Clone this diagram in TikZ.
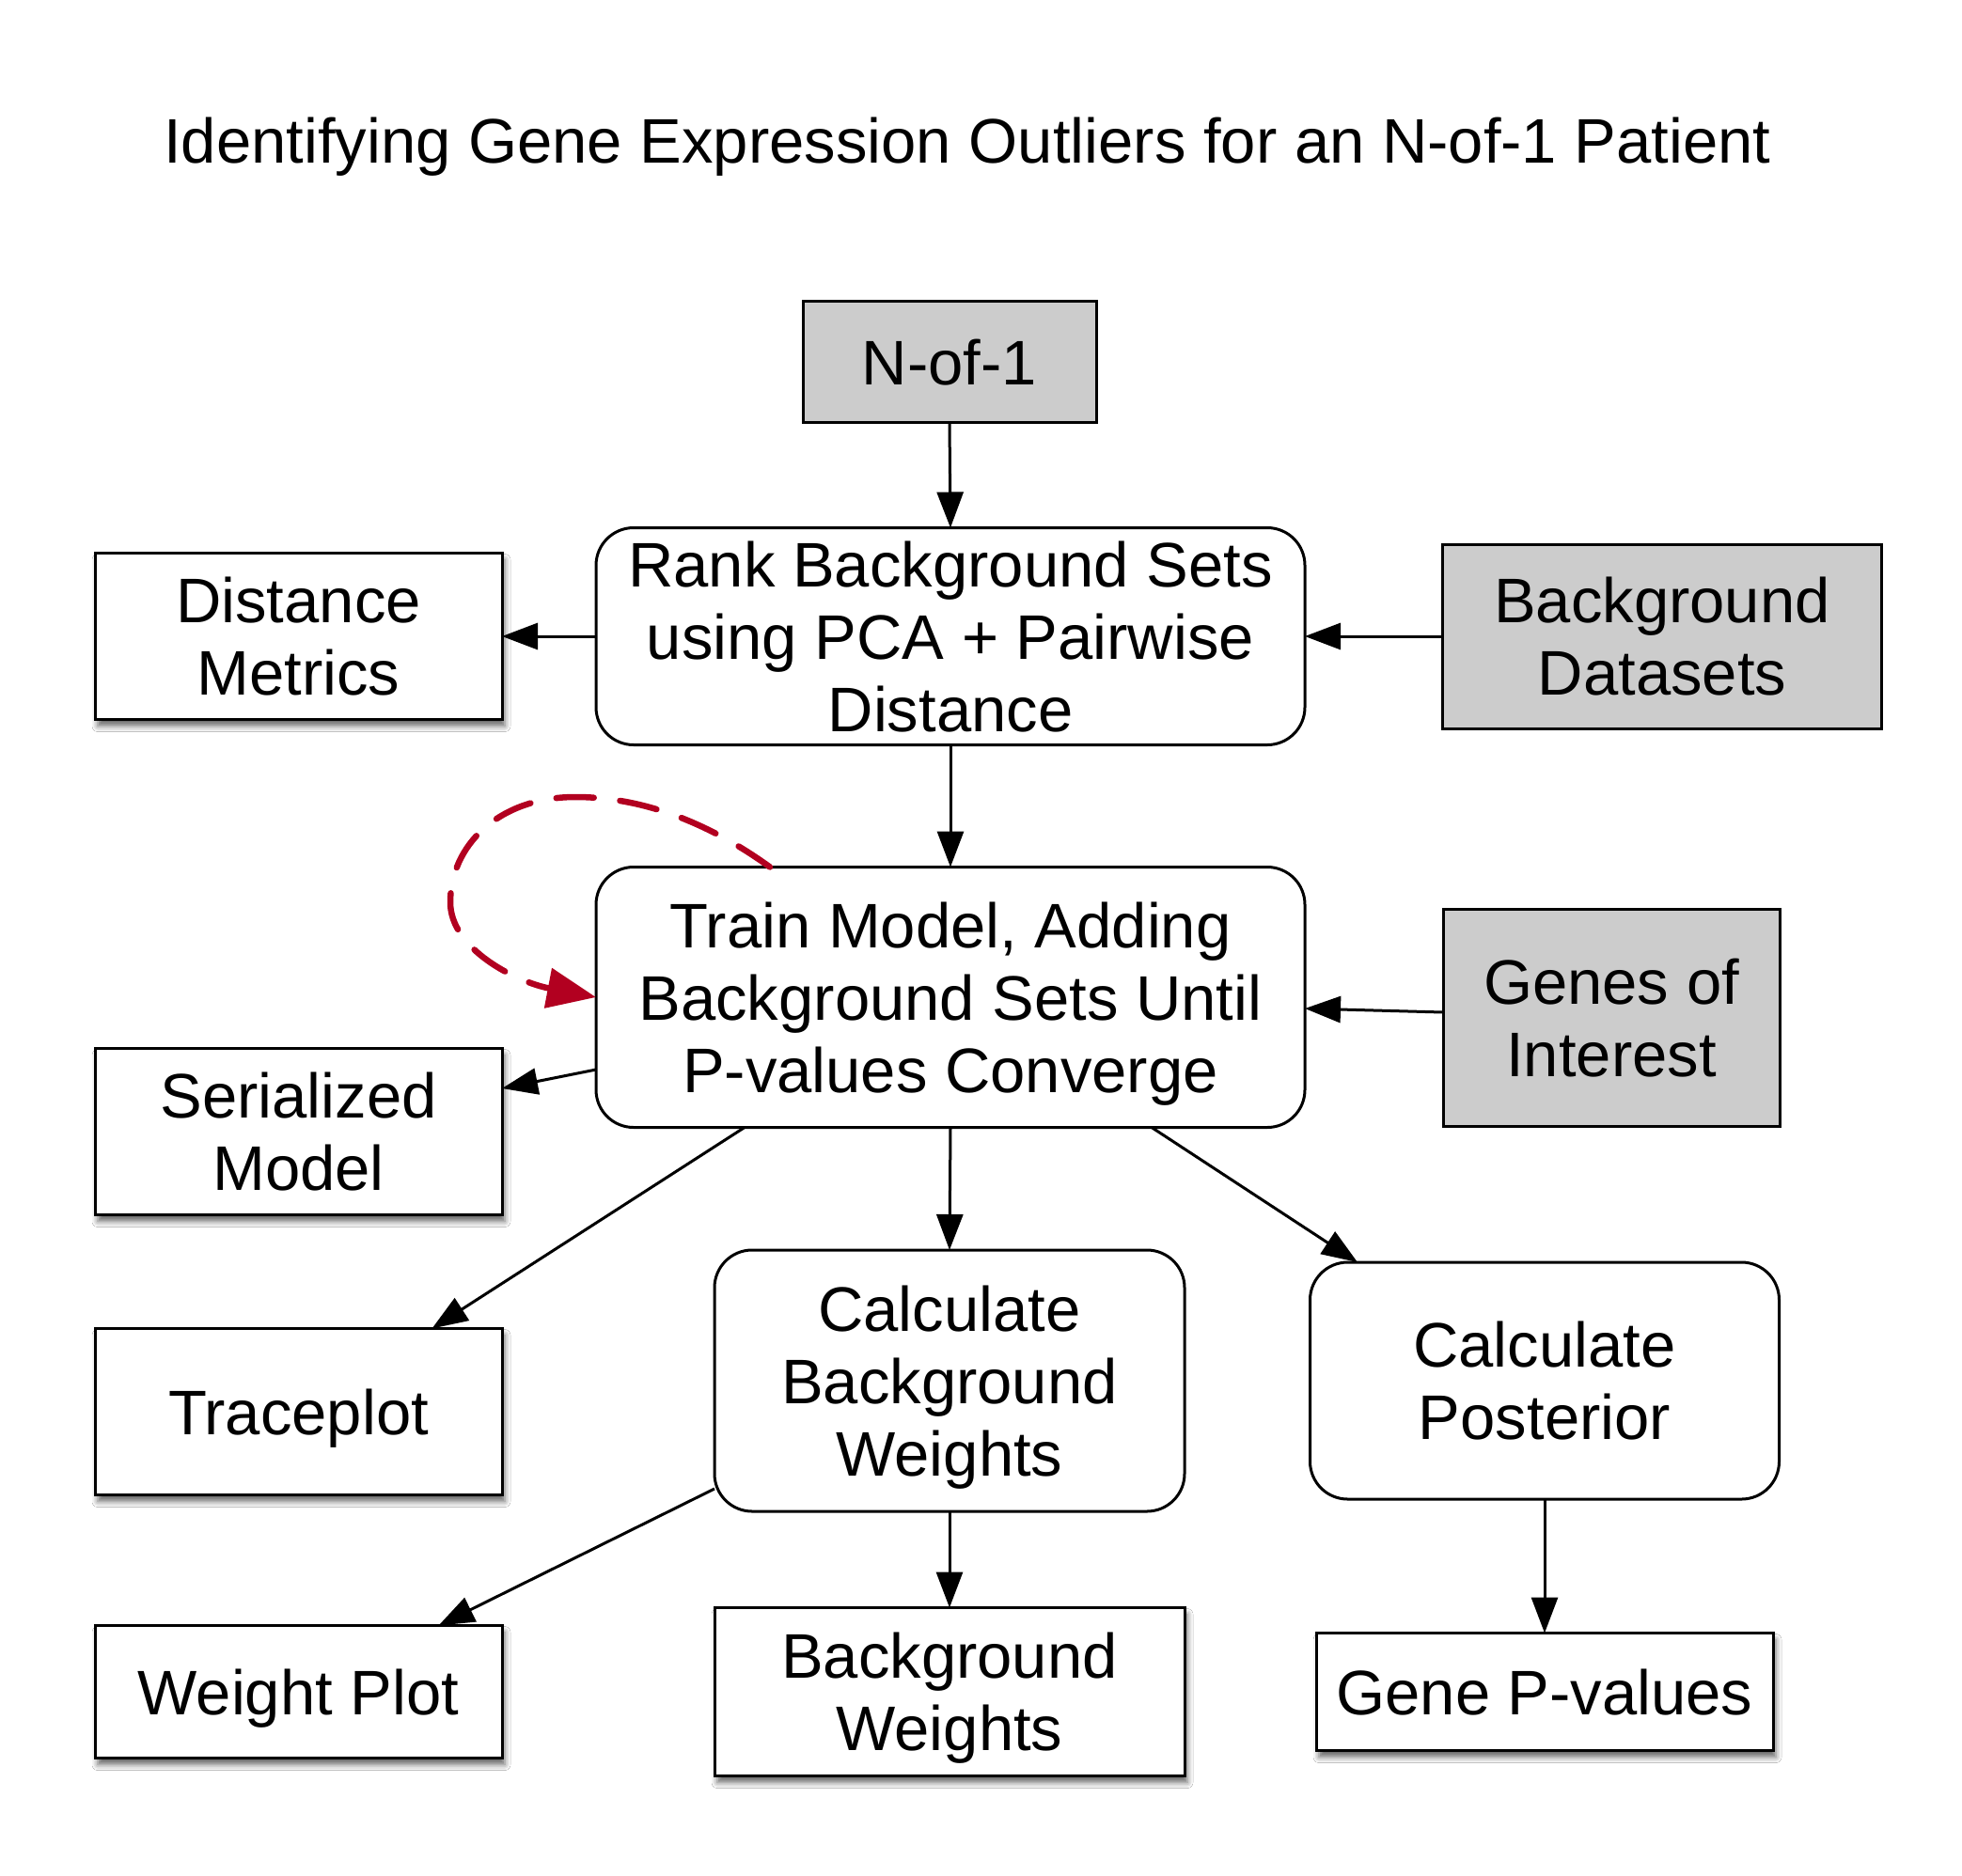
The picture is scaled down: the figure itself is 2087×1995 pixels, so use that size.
\documentclass[tikz,border=0pt]{standalone}
\usepackage{fontspec}
\setmainfont{Liberation Sans}
\usetikzlibrary{arrows.meta,shadows.blur}
\definecolor{boxgray}{HTML}{CCCCCC}
\definecolor{loopred}{HTML}{B20020}
\begin{document}
\begin{tikzpicture}[x=1pt,y=-1pt,
  every node/.style={inner sep=0pt,outer sep=0pt,align=center,text depth=0pt,font=\fontsize{67}{77}\selectfont},
  plainbox/.style={draw,line width=3pt,fill=white,
    blur shadow={shadow xshift=3pt,shadow yshift=-7pt,shadow blur radius=6pt,shadow opacity=60}},
  graybox/.style={draw,line width=3pt,fill=boxgray},
  roundbox/.style={draw,line width=3pt,fill=white,rounded corners=40pt},
  arr/.style={line width=3pt,-{Triangle[length=38pt,width=28pt]}},
  loop/.style={draw=loopred,line width=6.5pt,dash pattern=on 40pt off 28pt,line cap=round,
    -{Triangle[length=52pt,width=42pt,line cap=butt]}}]
\useasboundingbox (0,0) rectangle (2087,1995);
\fill[white] (0,0) rectangle (2087,1995);

\node (title) at (1029,149) {Identifying Gene Expression Outliers for an N-of-1 Patient};

\node[graybox,minimum width=312pt,minimum height=129pt] (nof1) at (1010,385) {N-of-1};
\node[roundbox,minimum width=754pt,minimum height=231pt] (rank) at (1011,677)
  {Rank Background Sets\\using PCA + Pairwise\\Distance};
\node[plainbox,minimum width=433pt,minimum height=177pt] (dist) at (317.5,677) {Distance\\Metrics};
\node[graybox,minimum width=467pt,minimum height=196pt] (bgdata) at (1768,677) {Background\\Datasets};
\node[roundbox,minimum width=754pt,minimum height=277pt] (train) at (1011,1061)
  {Train Model, Adding\\Background Sets Until\\P-values Converge};
\node[plainbox,minimum width=433pt,minimum height=177pt] (serial) at (317.5,1204) {Serialized\\Model};
\node[graybox,minimum width=358pt,minimum height=231pt] (genes) at (1714,1083) {Genes of\\Interest};
\node[plainbox,minimum width=433pt,minimum height=177pt] (trace) at (317.5,1502) {Traceplot};
\node[roundbox,minimum width=500pt,minimum height=278pt] (calcw) at (1010,1469)
  {Calculate\\Background\\Weights};
\node[roundbox,minimum width=499pt,minimum height=252pt] (post) at (1643,1469)
  {Calculate\\Posterior};
\node[plainbox,minimum width=433pt,minimum height=141pt] (wplot) at (317.5,1800) {Weight Plot};
\node[plainbox,minimum width=500pt,minimum height=179pt] (bgw) at (1010,1800) {Background\\Weights};
\node[plainbox,minimum width=486pt,minimum height=125pt] (pvals) at (1643,1800) {Gene P-values};

\draw[arr] (nof1.south) -- (rank.north);
\draw[arr] (rank.west) -- (dist.east);
\draw[arr] (bgdata.west) -- (rank.east);
\draw[arr] (rank.south) -- (train.north);
\draw[arr] ([yshift=6pt]genes.west) -- ([yshift=-12pt]train.east);
\draw[arr] ([yshift=-77pt]train.west) -- ([yshift=46pt]serial.east);
\draw[arr] ([xshift=-219pt]train.south) -- ([xshift=142pt]trace.north);
\draw[arr] (train.south) -- (calcw.north);
\draw[arr] ([xshift=214pt]train.south) -- ([xshift=-199pt]post.north);
\draw[arr] ([yshift=-115pt]calcw.west) -- ([xshift=149pt]wplot.north);
\draw[arr] (calcw.south) -- (bgw.north);
\draw[arr] (post.south) -- (pvals.north);

\coordinate (loopstart) at ([xshift=-192pt]train.north);
\draw[loop] (loopstart) .. controls (760,880) and (690,848) .. (612,848)
  .. controls (530,848) and (479,900) .. (479,960)
  .. controls (479,1010) and (550,1045) .. (train.west);
\end{tikzpicture}
\end{document}
